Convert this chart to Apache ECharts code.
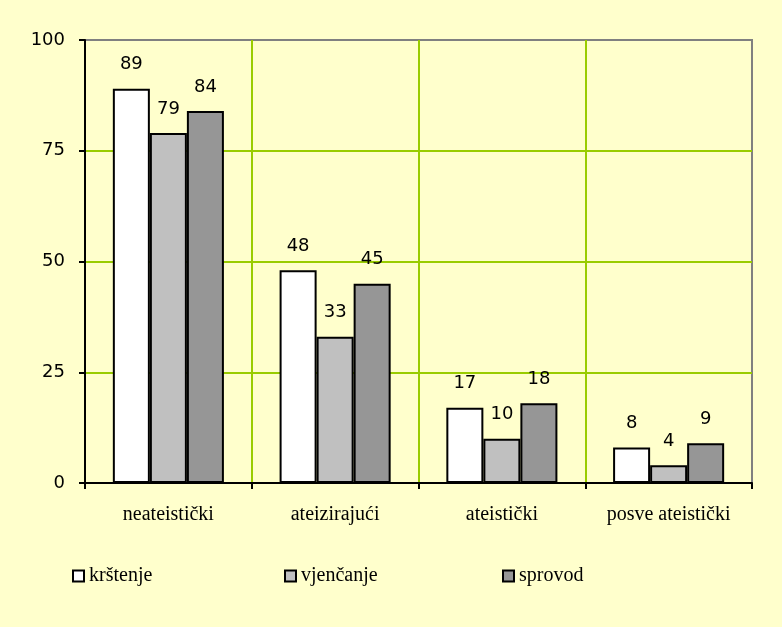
<!DOCTYPE html>
<html>
<head>
<meta charset="utf-8">
<script src="https://cdn.jsdelivr.net/npm/echarts@6/dist/echarts.min.js"></script>
<style>
  html, body { margin: 0; padding: 0; background: #FFFFCC; }
  #chart { width: 782px; height: 627px; }
</style>
</head>
<body>
<div id="chart"></div>
<script>
const categories = ['neateistički', 'ateizirajući', 'ateistički', 'posve ateistički'];
const seriesNames = ['krštenje', 'vjenčanje', 'sprovod'];
const krstenje = [89, 48, 17, 8];
const vjencanje = [79, 33, 10, 4];
const sprovod = [84, 45, 18, 9];
const yTicks = [0, 25, 50, 75, 100];

const colors = ['#FFFFFF', '#C0C0C0', '#969696'];
const values = [krstenje, vjencanje, sprovod];

var myChart = echarts.init(document.getElementById('chart'));

let series = seriesNames.map((name, i) => {
    return {
        type: 'bar',
        name: name,
        data: values[i],
        barGap: '0%',
        barCategoryGap: '33.4%',
        itemStyle: {
            color: colors[i],
            borderColor: '#000',
            borderWidth: 2
        },
        label: {
            show: true,
            position: 'top',
            distance: 15,
            color: '#000',
            fontFamily: 'DejaVu Sans',
            fontSize: 18
        }
    };
});

// one legend per item, so each sits where the original put it
let legendLeft = [72, 284, 502];
let legend = seriesNames.map((name, i) => {
    return {
        data: [name],
        left: legendLeft[i],
        top: 566,
        padding: 0,
        itemGap: 0,
        icon: 'rect',
        itemWidth: 11,
        itemHeight: 11,
        itemStyle: { borderColor: '#000', borderWidth: 2 },
        textStyle: {
            fontFamily: 'Liberation Serif',
            fontSize: 20,
            color: '#000'
        }
    };
});

var option = {
    backgroundColor: '#FFFFCC',
    animation: false,
    grid: {
        left: 85,
        right: 30,
        top: 40,
        bottom: 144,
        show: true,
        borderColor: '#808080',
        borderWidth: 2,
        backgroundColor: 'transparent'
    },
    legend: legend,
    xAxis: {
        type: 'category',
        data: categories,
        axisLine: { lineStyle: { color: '#000', width: 2 } },
        axisTick: { show: true, length: 6, lineStyle: { color: '#000', width: 2 } },
        axisLabel: {
            margin: 22,
            color: '#000',
            fontFamily: 'Liberation Serif',
            fontSize: 20
        },
        splitLine: {
            show: true,
            showMinLine: false,
            showMaxLine: false,
            lineStyle: { color: '#99CC00', width: 2 }
        }
    },
    yAxis: {
        type: 'value',
        min: yTicks[0],
        max: yTicks[yTicks.length - 1],
        interval: 25,
        axisLine: { show: true, lineStyle: { color: '#000', width: 2 } },
        axisTick: { show: true, length: 6, lineStyle: { color: '#000', width: 2 } },
        axisLabel: {
            margin: 20,
            color: '#000',
            fontFamily: 'DejaVu Sans',
            fontSize: 18
        },
        splitLine: {
            show: true,
            showMinLine: false,
            showMaxLine: false,
            lineStyle: { color: '#99CC00', width: 2 }
        }
    },
    series: series
};

myChart.setOption(option);
</script>
</body>
</html>
